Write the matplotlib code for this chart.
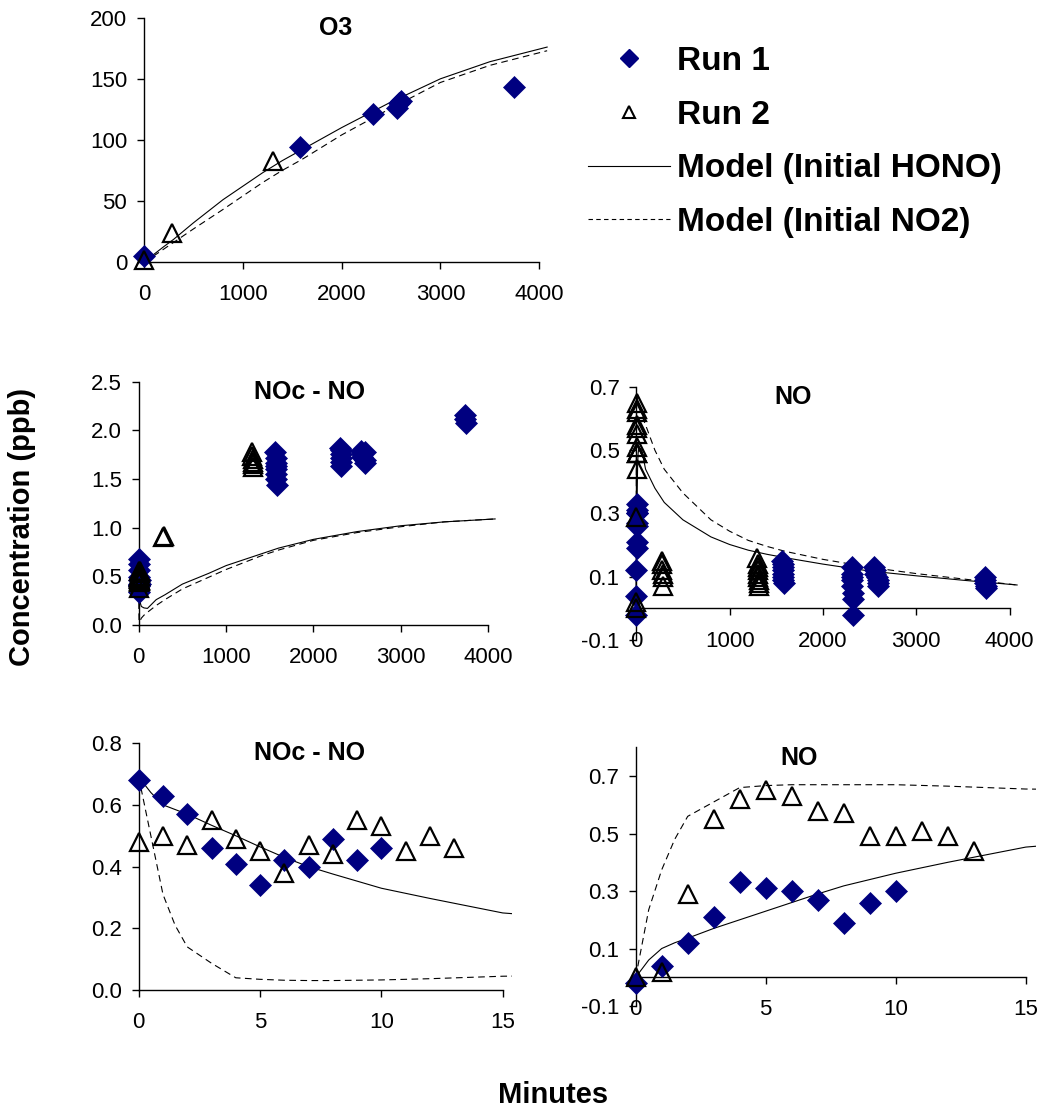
import matplotlib
matplotlib.use('Agg')
import matplotlib.pyplot as plt
from matplotlib.lines import Line2D
from matplotlib.transforms import Bbox, TransformedBbox

plt.rcParams['font.family'] = ['Liberation Sans', 'DejaVu Sans']

# ---- measured data (time in minutes) ----
# first minutes of both runs (bottom panels, also the cluster at t=0 above)
run1_min = [0, 1, 2, 3, 4, 5, 6, 7, 8, 9, 10]
run2_min = [0, 1, 2, 3, 4, 5, 6, 7, 8, 9, 10, 11, 12, 13]
run1_nocno_min = [0.68, 0.63, 0.57, 0.46, 0.41, 0.34, 0.42, 0.40, 0.49, 0.42, 0.46]
run2_nocno_min = [0.48, 0.50, 0.47, 0.55, 0.49, 0.45, 0.38, 0.47, 0.44, 0.55, 0.53, 0.45, 0.50, 0.46]
run1_no_min = [-0.02, 0.04, 0.12, 0.21, 0.33, 0.31, 0.30, 0.27, 0.19, 0.26, 0.30]
run2_no_min = [0.00, 0.02, 0.29, 0.55, 0.62, 0.65, 0.63, 0.58, 0.57, 0.49, 0.49, 0.51, 0.49, 0.44]

# later sampling periods
run1_nocno_t = [1565, 1567, 1569, 1571, 1573, 1575, 1577, 1579,
                2308, 2310, 2312, 2314, 2316, 2318,
                2550, 2555, 2560, 2585, 2590, 2595,
                3735, 3740, 3745]
run1_nocno = [1.78, 1.72, 1.67, 1.63, 1.60, 1.55, 1.50, 1.44,
              1.82, 1.80, 1.76, 1.72, 1.68, 1.63,
              1.79, 1.76, 1.73, 1.70, 1.67, 1.78,
              2.16, 2.12, 2.08]
run2_nocno_t = [280, 285, 1300, 1302, 1304, 1306, 1308, 1310]
run2_nocno = [0.90, 0.91, 1.78, 1.74, 1.71, 1.68, 1.65, 1.62]

run1_no_t = [1565, 1567, 1569, 1571, 1573, 1575, 1577, 1579,
             2308, 2310, 2312, 2314, 2316, 2318, 2320, 2322,
             2550, 2555, 2560, 2580, 2585, 2590, 2595,
             3735, 3737, 3740, 3742, 3745]
run1_no = [0.15, 0.14, 0.13, 0.12, 0.11, 0.10, 0.09, 0.08,
           0.13, 0.11, 0.10, 0.09, 0.07, 0.05, 0.03, -0.02,
           0.13, 0.12, 0.11, 0.10, 0.09, 0.08, 0.07,
           0.10, 0.09, 0.08, 0.07, 0.065]
run2_no_t = [275, 278, 281, 284, 287, 290,
             1298, 1300, 1302, 1304, 1306, 1308, 1310, 1312, 1314]
run2_no = [0.15, 0.14, 0.12, 0.11, 0.10, 0.07,
           0.16, 0.14, 0.13, 0.12, 0.11, 0.10, 0.09, 0.08, 0.07]

run1_o3_t = [0, 1575, 2318, 2560, 2585, 2600, 3745]
run1_o3 = [5, 94, 121, 126, 130, 132, 143]
run2_o3_t = [0, 280, 1305]
run2_o3 = [2, 24, 83]

# model output
model_t = [0, 0.5, 1, 1.5, 2, 3, 4, 5, 6, 7, 8, 10, 12, 15, 20, 30, 60, 100,
           200, 300, 500, 800, 1000, 1200, 1400, 1600, 2000, 2500, 3000, 3500, 4080]
nocno_hono = [0.69, 0.64, 0.60, 0.585, 0.57, 0.534, 0.50, 0.464, 0.43, 0.40, 0.376,
              0.33, 0.297, 0.25, 0.22, 0.19, 0.175, 0.17, 0.26, 0.31, 0.42, 0.53,
              0.61, 0.67, 0.73, 0.79, 0.88, 0.96, 1.02, 1.06, 1.09]
nocno_no2 = [0.69, 0.50, 0.31, 0.21, 0.14, 0.087, 0.04, 0.035, 0.032, 0.031, 0.031,
             0.033, 0.037, 0.045, 0.05, 0.07, 0.10, 0.13, 0.20, 0.26, 0.37, 0.49,
             0.57, 0.64, 0.71, 0.77, 0.87, 0.95, 1.01, 1.06, 1.09]
no_hono = [0.0, 0.06, 0.10, 0.12, 0.136, 0.17, 0.20, 0.23, 0.26, 0.29, 0.318,
           0.362, 0.40, 0.453, 0.49, 0.51, 0.50, 0.44, 0.38, 0.335, 0.28, 0.226,
           0.202, 0.184, 0.171, 0.16, 0.14, 0.118, 0.103, 0.089, 0.074]
no_no2 = [0.0, 0.235, 0.374, 0.48, 0.56, 0.61, 0.66, 0.667, 0.67, 0.67, 0.67,
          0.67, 0.665, 0.655, 0.65, 0.64, 0.61, 0.58, 0.50, 0.44, 0.365, 0.28,
          0.244, 0.215, 0.196, 0.18, 0.155, 0.13, 0.11, 0.093, 0.074]
o3_hono = [0, 0.03, 0.06, 0.09, 0.12, 0.18, 0.24, 0.3, 0.36, 0.42, 0.48, 0.6, 0.72,
           0.9, 1.2, 1.8, 3.7, 6.2, 12.5, 18.5, 32, 51, 62, 73, 83, 92, 110, 131,
           150, 164, 176]
o3_no2 = [0, 0.02, 0.05, 0.07, 0.1, 0.15, 0.2, 0.25, 0.3, 0.35, 0.4, 0.5, 0.6,
          0.75, 1.0, 1.5, 3.0, 5.0, 10.5, 16, 27, 43, 54, 65, 75, 84, 104, 126,
          147, 161, 173]

NAVY = '#000080'
FS_TICK = 16
FS_TITLE = 18
FS_LABEL = 21
FS_LEGEND = 24


def draw(ax, r1x, r1y, r2x, r2y, m1, m2):
    for y, ls in ((m1, '-'), (m2, (0, (6, 4)))):
        ln, = ax.plot(model_t, y, color='black', lw=0.8, ls=ls, zorder=2)
        ln.set_clip_box(TransformedBbox(Bbox([[-0.02, -0.3], [1.025, 1.2]]), ax.transAxes))
    ax.plot(r1x, r1y, ls='none', marker='D', ms=11, color=NAVY, mec=NAVY,
            mew=0.5, zorder=3, clip_on=False)
    ax.plot(r2x, r2y, ls='none', marker='^', ms=12.5, mfc='none', mec='black',
            mew=1.6, zorder=4, clip_on=False)


def style(ax, xlim, xticks, ylim, yticks, yfmt, title, tx, zero_axis=False):
    ax.set_xlim(*xlim)
    ax.set_ylim(*ylim)
    ax.set_xticks(xticks)
    ax.set_yticks(yticks)
    ax.set_yticklabels([yfmt.format(v) for v in yticks])
    ax.spines['top'].set_visible(False)
    ax.spines['right'].set_visible(False)
    for s in ('left', 'bottom'):
        ax.spines[s].set_linewidth(1)
    if zero_axis:
        ax.spines['bottom'].set_position(('data', 0))
    ax.tick_params(axis='both', direction='out', length=5, width=1, labelsize=FS_TICK)
    ax.tick_params(axis='x', pad=11)
    ax.tick_params(axis='y', pad=7)
    ax.patch.set_visible(False)
    ax.text(tx, 0.96, title, transform=ax.transAxes, ha='center', va='center',
            fontsize=FS_TITLE, fontweight='bold')


fig = plt.figure(figsize=(10.43, 11.10), dpi=100)

ax_o3 = fig.add_axes([0.138, 0.764, 0.379, 0.220])
draw(ax_o3, run1_o3_t, run1_o3, run2_o3_t, run2_o3, o3_hono, o3_no2)
style(ax_o3, (0, 4000), [0, 1000, 2000, 3000, 4000], (0, 200), [0, 50, 100, 150, 200],
      '{:.0f}', 'O3', 0.484)

ax_ml = fig.add_axes([0.133, 0.437, 0.335, 0.219])
draw(ax_ml, run1_min + run1_nocno_t, run1_nocno_min + run1_nocno,
     run2_min + run2_nocno_t, run2_nocno_min + run2_nocno, nocno_hono, nocno_no2)
style(ax_ml, (0, 4000), [0, 1000, 2000, 3000, 4000], (0, 2.5),
      [0, 0.5, 1.0, 1.5, 2.0, 2.5], '{:.1f}', 'NOc - NO', 0.49)

ax_mr = fig.add_axes([0.610, 0.4234, 0.358, 0.228])
draw(ax_mr, run1_min + run1_no_t, run1_no_min + run1_no,
     run2_min + run2_no_t, run2_no_min + run2_no, no_hono, no_no2)
style(ax_mr, (0, 4000), [0, 1000, 2000, 3000, 4000], (-0.1, 0.7),
      [-0.1, 0.1, 0.3, 0.5, 0.7], '{:.1f}', 'NO', 0.42, zero_axis=True)

ax_bl = fig.add_axes([0.133, 0.108, 0.349, 0.2225])
draw(ax_bl, run1_min, run1_nocno_min, run2_min, run2_nocno_min, nocno_hono, nocno_no2)
style(ax_bl, (0, 15), [0, 5, 10, 15], (0, 0.8), [0, 0.2, 0.4, 0.6, 0.8],
      '{:.1f}', 'NOc - NO', 0.47)

ax_br = fig.add_axes([0.6095, 0.0937, 0.374, 0.233])
draw(ax_br, run1_min, run1_no_min, run2_min, run2_no_min, no_hono, no_no2)
style(ax_br, (0, 15), [0, 5, 10, 15], (-0.1, 0.8), [-0.1, 0.1, 0.3, 0.5, 0.7],
      '{:.1f}', 'NO', 0.42, zero_axis=True)

# legend
handles = [
    Line2D([], [], ls='none', marker='D', ms=9, color=NAVY),
    Line2D([], [], ls='none', marker='^', ms=9, mfc='none', mec='black', mew=1.5),
    Line2D([], [], color='black', lw=0.8),
    Line2D([], [], color='black', lw=0.8, ls=(0, (4, 3))),
]
labels = ['Run 1', 'Run 2', 'Model (Initial HONO)', 'Model (Initial NO2)']
fig.legend(handles, labels, loc='upper left', bbox_to_anchor=(588 / 1043, 1 - 46 / 1110),
           frameon=False, prop={'size': FS_LEGEND, 'weight': 'bold'}, borderpad=0,
           borderaxespad=0, handlelength=2.46, handletextpad=0.21, labelspacing=0.68)

fig.text(0.021, 0.525, 'Concentration (ppb)', rotation=90, ha='center', va='center',
         fontsize=FS_LABEL, fontweight='bold')
fig.text(0.530, 0.0135, 'Minutes', ha='center', va='center', fontsize=FS_LABEL,
         fontweight='bold')

fig.savefig('out.png', dpi=100)
